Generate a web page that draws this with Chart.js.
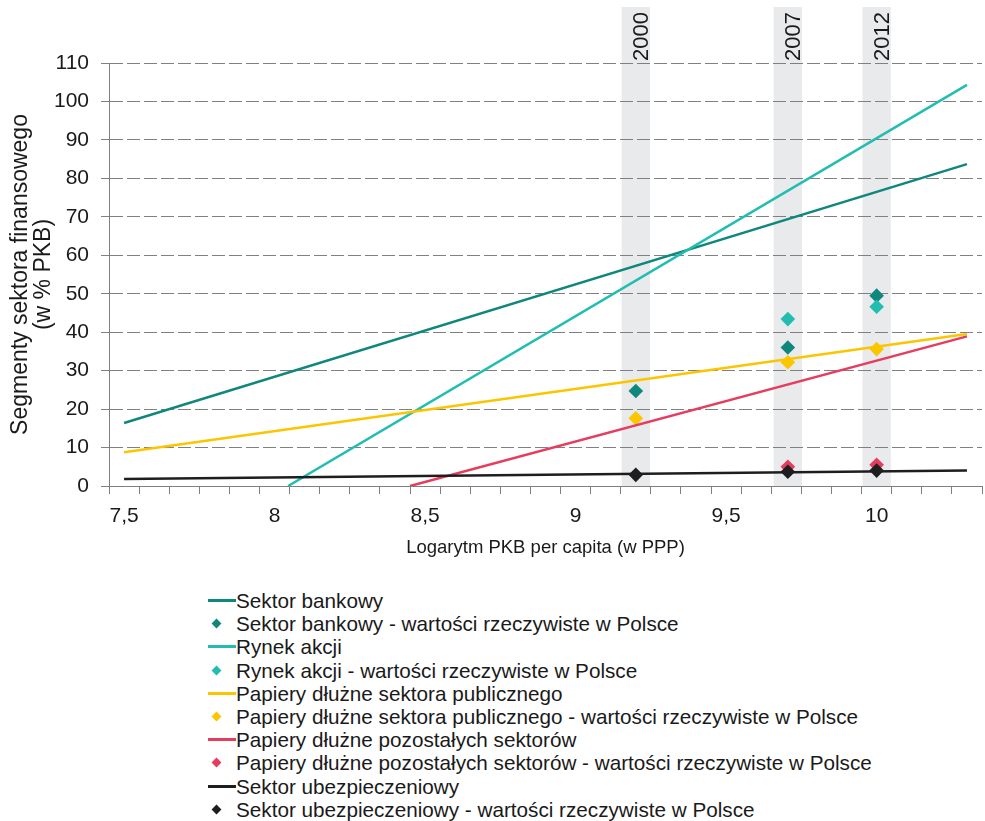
<!DOCTYPE html>
<html>
<head>
<meta charset="utf-8">
<title>Segmenty sektora finansowego</title>
<script src="https://cdn.jsdelivr.net/npm/chart.js@4.4.1/dist/chart.umd.min.js"></script>
<style>
  html, body { margin: 0; padding: 0; background: #fff; }
  #wrap { position: relative; width: 985px; height: 821px; overflow: hidden; }
  #chart { position: absolute; left: 0; top: 0; }
  #legend {
    position: absolute; left: 208px; top: 589px;
    font-family: 'Liberation Sans', Arial, sans-serif; font-size: 20.7px; color: #1a1a1a;
  }
  .item { position: relative; height: 23.2px; line-height: 23.2px; white-space: nowrap; padding-left: 28px; }
  .item .line { position: absolute; left: 0; top: 10px; width: 28px; height: 3px; }
  .item .dot { position: absolute; left: 5px; top: 8px; width: 7px; height: 7px; transform: rotate(45deg); }
</style>
</head>
<body>
<div id="wrap">
  <canvas id="chart" width="985" height="583"></canvas>
  <div id="legend"></div>
</div>
<script>
// ---- data ----
const xTickValues = [7.5, 8, 8.5, 9, 9.5, 10];
const xTickLabels = ['7,5', '8', '8,5', '9', '9,5', '10'];

// grey year bands (x = log GDP per capita for Poland)
const bandYears = ['2000', '2007', '2012'];
const bandX = [9.2, 9.705, 10.0];

// fitted trend lines, start / end points
const bankowyX = [7.5, 10.3];
const bankowyY = [16.4, 83.7];
const akcjeX = [8.045, 10.3];
const akcjeY = [0, 104.3];
const publiczneX = [7.5, 10.3];
const publiczneY = [8.8, 39.5];
const pozostaleX = [8.45, 10.3];
const pozostaleY = [0, 38.9];
const ubezpX = [7.5, 10.3];
const ubezpY = [1.8, 4.0];

// actual values in Poland, at bandX
const bankowyPL = [24.7, 36.0, 49.5];
const akcjePL = [null, 43.4, 46.6];
const publicznePL = [17.6, 32.2, 35.6];
const pozostalePL = [null, 5.0, 5.5];
const ubezpPL = [2.9, 3.7, 4.0];

const seriesNames = [
  'Sektor bankowy',
  'Rynek akcji',
  'Papiery dłużne sektora publicznego',
  'Papiery dłużne pozostałych sektorów',
  'Sektor ubezpieczeniowy'
];
const seriesColors = ['#10877d', '#22bdb1', '#fbc600', '#e63c5e', '#1e1e1e'];
const PL_SUFFIX = ' - wartości rzeczywiste w Polsce';

const trends = [
  [bankowyX, bankowyY], [akcjeX, akcjeY], [publiczneX, publiczneY],
  [pozostaleX, pozostaleY], [ubezpX, ubezpY]
];
const actuals = [bankowyPL, akcjePL, publicznePL, pozostalePL, ubezpPL];

const pts = (xs, ys) => xs.map((x, i) => ({ x: x, y: ys[i] }));

// build datasets: line + markers for each series
const datasets = [];
seriesNames.forEach((name, i) => {
  datasets.push({
    label: name,
    type: 'scatter',
    showLine: true,
    data: pts(trends[i][0], trends[i][1]),
    borderColor: seriesColors[i],
    backgroundColor: seriesColors[i],
    borderWidth: 2.5,
    pointRadius: 0,
    pointHoverRadius: 0,
    tension: 0
  });
  datasets.push({
    label: name + PL_SUFFIX,
    type: 'scatter',
    data: pts(bandX, actuals[i]),
    borderColor: seriesColors[i],
    backgroundColor: seriesColors[i],
    borderWidth: 0,
    pointStyle: 'rectRot',
    pointRadius: 7.3,
    pointHoverRadius: 7.3
  });
});
// Excel draws later series on top
datasets.forEach((d, i) => { d.order = datasets.length - i; });

// ---- grey bands with the year labels ----
const yearBands = {
  id: 'yearBands',
  beforeDraw(chart) {
    const { ctx, chartArea, scales: { x } } = chart;
    const top = chartArea.top - 56;
    ctx.save();
    bandX.forEach((v, i) => {
      const l = x.getPixelForValue(v - 0.047);
      const r = x.getPixelForValue(v + 0.047);
      ctx.fillStyle = '#e8eaec';
      ctx.fillRect(l, top, r - l, chartArea.bottom - top);

      ctx.save();
      ctx.translate(r - 2, top + 5);
      ctx.rotate(-Math.PI / 2);
      ctx.font = '22px "Liberation Sans", Arial, sans-serif';
      ctx.fillStyle = '#1a1a1a';
      ctx.textAlign = 'right';
      ctx.textBaseline = 'alphabetic';
      ctx.fillText(bandYears[i], 0, 0);
      ctx.restore();
    });
    ctx.restore();
  }
};

Chart.defaults.font.family = "'Liberation Sans', Arial, sans-serif";
Chart.defaults.color = '#1a1a1a';

const isBoundary = (v) => Math.round(v * 100 - 745) % 10 === 0;

const chart = new Chart(document.getElementById('chart'), {
  type: 'scatter',
  data: { datasets: datasets },
  options: {
    responsive: false,
    animation: false,
    devicePixelRatio: 1,
    layout: { autoPadding: false, padding: { top: 63, right: 3, left: 0, bottom: 0 } },
    plugins: {
      legend: { display: false },
      tooltip: { enabled: false }
    },
    scales: {
      x: {
        type: 'linear',
        min: 7.45,
        max: 10.35,
        afterBuildTicks: (axis) => {
          const ticks = [];
          for (let k = 0; k <= 58; k++) ticks.push({ value: (745 + 5 * k) / 100 });
          axis.ticks = ticks;
        },
        afterFit: (axis) => {
          axis.height = 97;
          axis.paddingRight = 0;
          axis.paddingLeft = 0;
        },
        ticks: {
          autoSkip: false,
          maxRotation: 0,
          padding: 10,
          font: { size: 21 },
          callback: (v) => {
            const i = xTickValues.findIndex(t => Math.abs(t - v) < 1e-6);
            return i >= 0 ? xTickLabels[i] : '';
          }
        },
        grid: {
          drawOnChartArea: false,
          tickLength: 8,
          tickColor: (c) => (c.tick && isBoundary(c.tick.value)) ? '#808080' : 'rgba(0,0,0,0)'
        },
        border: { color: '#808080', width: 1 },
        title: {
          display: true,
          text: 'Logarytm PKB per capita (w PPP)',
          font: { size: 18.5 },
          padding: { top: 6, bottom: 23.6 }
        }
      },
      y: {
        min: 0,
        max: 110,
        afterFit: (axis) => { axis.width = 109; },
        ticks: { stepSize: 10, padding: 12, font: { size: 21 } },
        grid: { color: '#808080', lineWidth: 1, tickLength: 8 },
        border: { color: '#808080', width: 1, dash: [13, 4] },
        title: {
          display: true,
          text: ['Segmenty sektora finansowego', '(w % PKB)'],
          font: { size: 23, lineHeight: 1.0 },
          padding: { top: 9, bottom: 0 }
        }
      }
    }
  },
  plugins: [yearBands]
});

// ---- HTML legend, one entry per line ----
const legendEl = document.getElementById('legend');
chart.data.datasets.forEach((d) => {
  const item = document.createElement('div');
  item.className = 'item';
  const mark = document.createElement('span');
  mark.className = d.showLine ? 'line' : 'dot';
  mark.style.background = d.borderColor;
  item.appendChild(mark);
  item.appendChild(document.createTextNode(d.label));
  legendEl.appendChild(item);
});
</script>
</body>
</html>
